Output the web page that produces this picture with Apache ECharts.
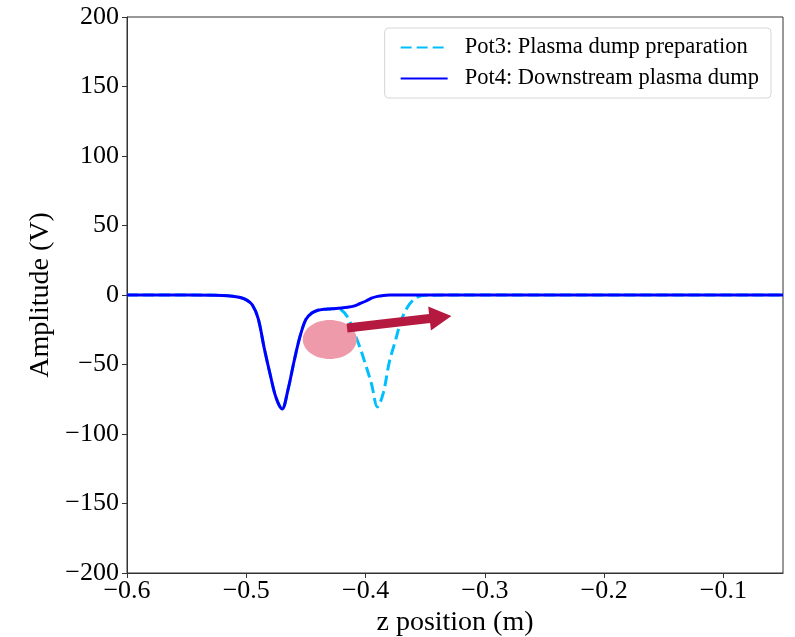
<!DOCTYPE html>
<html>
<head>
    <meta charset="utf-8">
    <title>Pot3 / Pot4</title>
    <style>
        html, body { margin: 0; padding: 0; background: #fff; }
        #main { width: 795px; height: 637px; }
    </style>
</head>
<body>
<div id="main"></div>
<script src="https://cdn.jsdelivr.net/npm/echarts@6/dist/echarts.min.js"></script>
<script type="text/javascript">
    // z positions (m)
    var zVals = [-0.6, -0.55, -0.52, -0.51, -0.505, -0.5, -0.495, -0.49, -0.485, -0.48, -0.475, -0.47,
        -0.465, -0.46, -0.455, -0.45, -0.445, -0.44, -0.435, -0.43, -0.425, -0.42, -0.415, -0.41,
        -0.405, -0.4, -0.395, -0.39, -0.385, -0.38, -0.375, -0.37, -0.365, -0.36, -0.355, -0.35,
        -0.3, -0.05];
    // Pot3: Plasma dump preparation
    var pot3Vals = [0, 0, -0.3, -1, -1.8, -3.5, -7, -17, -38, -57, -74, -82,
        -68, -48, -30, -17.5, -13, -11, -10.3, -10, -9.8, -11, -16, -26,
        -37, -50, -64, -80.5, -70, -48, -33, -18, -9, -3.6, -1, -0.2,
        0, 0];
    // Pot4: Downstream plasma dump
    var pot4Vals = [0, 0, -0.3, -1, -1.8, -3.5, -7, -17, -38, -57, -74, -82,
        -68, -48, -30, -17.5, -13, -11, -10.3, -10, -9.7, -9.3, -8.8, -8,
        -6.3, -4.5, -2.3, -1, -0.3, 0, 0, 0, 0, 0, 0, 0,
        0, 0];
    var xTicks = [-0.6, -0.5, -0.4, -0.3, -0.2, -0.1];
    var yTicks = [-200, -150, -100, -50, 0, 50, 100, 150, 200];

    function pairs(xs, ys) {
        return xs.map(function (x, i) { return [x, ys[i]]; });
    }
    function fmt(v) {
        var s = String(Math.round(v * 10) / 10 === v ? v : v.toFixed(1));
        return v < 0 ? '\u2212' + s.slice(1) : s;
    }

    var font = 'Liberation Serif';
    var chart = echarts.init(document.getElementById('main'));
    var option = {
        animation: false,
        grid: {left: 127, top: 17, right: 12, bottom: 64, show: true, borderColor: '#333', borderWidth: 1,
            containLabel: false, outerBoundsMode: 'none'},
        legend: {
            right: 24, top: 28, orient: 'vertical',
            itemWidth: 47, itemHeight: 14, itemGap: 8,
            padding: [8, 12, 8, 15],
            borderColor: '#d6d6d6', borderWidth: 1, borderRadius: 4,
            itemStyle: {opacity: 0},
            textStyle: {fontFamily: font, fontSize: 22.5, color: '#000', padding: [0, 0, 0, 12]},
            data: ['Pot3: Plasma dump preparation', 'Pot4: Downstream plasma dump']
        },
        xAxis: {
            type: 'value', min: -0.6, max: -0.05,
            name: 'z position (m)', nameLocation: 'middle', nameGap: 35,
            nameTextStyle: {fontFamily: font, fontSize: 28, color: '#000'},
            axisLine: {onZero: false, lineStyle: {color: '#333'}},
            axisTick: {inside: false, length: 5, customValues: xTicks, lineStyle: {color: '#333'}},
            axisLabel: {fontFamily: font, fontSize: 26, color: '#000', margin: 5, customValues: xTicks, formatter: fmt},
            splitLine: {show: false}
        },
        yAxis: {
            type: 'value', min: -200, max: 200, interval: 50,
            name: 'Amplitude (V)', nameLocation: 'middle', nameGap: 64, nameRotate: 90,
            nameTextStyle: {fontFamily: font, fontSize: 28, color: '#000'},
            axisLine: {show: true, lineStyle: {color: '#333'}},
            axisTick: {show: true, inside: false, length: 5, customValues: yTicks, lineStyle: {color: '#333'}},
            axisLabel: {fontFamily: font, fontSize: 26, color: '#000', margin: 8, customValues: yTicks, formatter: fmt},
            splitLine: {show: false}
        },
        series: [{
            name: 'Pot3: Plasma dump preparation',
            type: 'line', smooth: 0.35, symbol: 'none', z: 2,
            color: '#00bfff',
            lineStyle: {color: '#00bfff', width: 3, type: [11, 5]},
            data: pairs(zVals, pot3Vals)
        }, {
            name: 'Pot4: Downstream plasma dump',
            type: 'line', smooth: 0.35, symbol: 'none', z: 3,
            color: '#0000ff',
            lineStyle: {color: '#0000ff', width: 3},
            data: pairs(zVals, pot4Vals)
        }]
    };
    chart.setOption(option);

    // annotation: pink blob and arrow, placed in data coordinates
    var blob = chart.convertToPixel({gridIndex: 0}, [-0.430, -32]);
    var a0 = chart.convertToPixel({gridIndex: 0}, [-0.4155, -23.7]);
    var a1 = chart.convertToPixel({gridIndex: 0}, [-0.328, -15.1]);
    var ang = Math.atan2(a1[1] - a0[1], a1[0] - a0[0]);
    var headLen = 22, headW = 12, shaftW = 4.5;
    function pt(along, across) {
        return [a0[0] + Math.cos(ang) * along - Math.sin(ang) * across,
            a0[1] + Math.sin(ang) * along + Math.cos(ang) * across];
    }
    var L = Math.hypot(a1[0] - a0[0], a1[1] - a0[1]);
    var arrowPts = [pt(0, -shaftW), pt(L - headLen, -shaftW), pt(L - headLen, -headW), pt(L, 0),
        pt(L - headLen, headW), pt(L - headLen, shaftW), pt(0, shaftW)];
    chart.setOption({
        graphic: [{
            type: 'ellipse', z: 100,
            shape: {cx: blob[0], cy: blob[1], rx: 27, ry: 19.5},
            style: {fill: '#ee9aab'}
        }, {
            type: 'polygon', z: 101,
            shape: {points: arrowPts},
            style: {fill: '#b5193f'}
        }]
    });
</script>
</body>
</html>
